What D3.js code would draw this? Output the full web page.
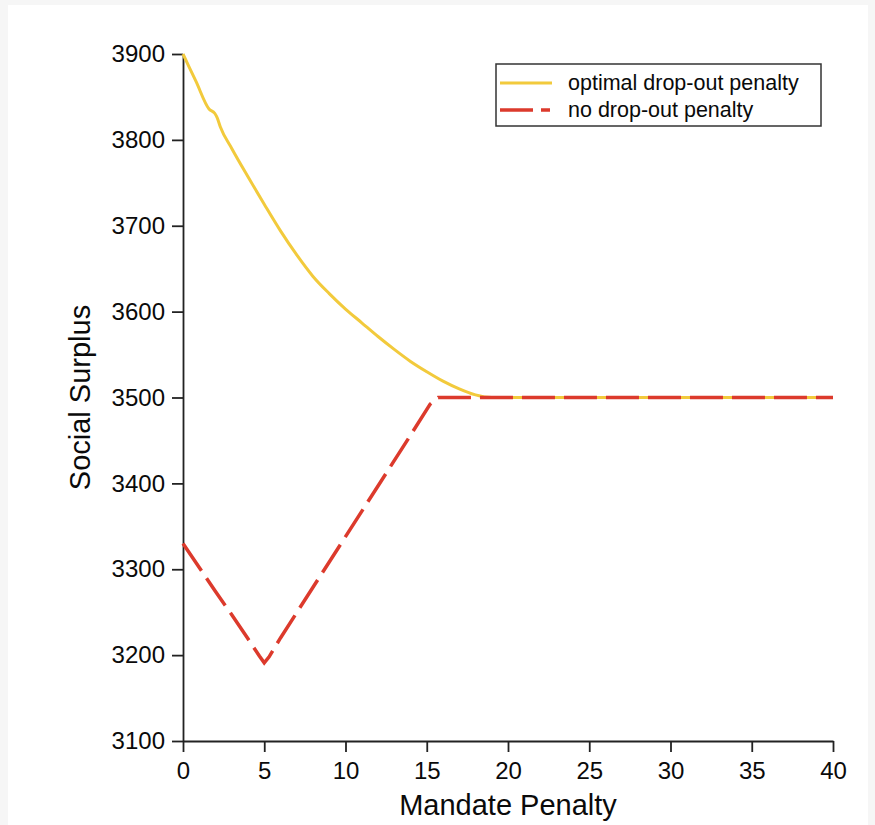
<!DOCTYPE html>
<html>
<head>
  <meta charset="utf-8" />
  <title>Social Surplus vs Mandate Penalty</title>
  <script src="https://d3js.org/d3.v7.min.js"></script>
  <style>
    body { margin: 0; background: #f6f6f6; }
    svg { display: block; }
    text { font-family: "Liberation Sans", Arial, Helvetica, sans-serif; fill: #0a0a0a; }
  </style>
</head>
<body>
  <div id="chart"></div>
  <script>
    // values
    const optPenalty = [0, 0.8, 1.6, 1.95, 2.1, 2.3, 3, 4, 5, 6, 7, 8, 9, 10, 11, 12, 13, 14, 15, 16, 17, 18, 19, 25, 30, 35, 40];
    const optSurplus = [3900, 3868, 3836, 3831, 3826, 3815, 3790, 3757, 3725, 3694, 3666, 3641, 3621, 3603, 3587, 3571, 3556, 3542, 3530, 3519, 3510, 3503, 3500, 3500, 3500, 3500, 3500];

    const noPenalty = [0, 1, 2, 3, 4, 4.7, 5, 5.3, 6, 8, 10, 12, 14, 15.2, 15.7, 20, 30, 40];
    const noSurplus = [3330, 3302, 3274, 3247, 3219, 3199, 3191, 3198, 3220, 3279, 3338, 3397, 3456, 3492, 3500, 3500, 3500, 3500];

    const xTicks = [0, 5, 10, 15, 20, 25, 30, 35, 40];
    const yTicks = [3100, 3200, 3300, 3400, 3500, 3600, 3700, 3800, 3900];
    const legendLabels = ["optimal drop-out penalty", "no drop-out penalty"];

    const width = 875, height = 825;
    const yellow = "#f2ca3c", red = "#dc3a2c";

    const svg = d3.select("#chart").append("svg")
      .attr("width", width)
      .attr("height", height);

    // white page area inside the light grey screenshot edge
    svg.append("rect")
      .attr("x", 8).attr("y", 5)
      .attr("width", 860).attr("height", 820)
      .attr("fill", "#fff");

    const x = d3.scaleLinear().domain([0, 40]).range([183, 833]);
    const y = d3.scaleLinear().domain([3100, 3900]).range([741, 54]);

    const xAxis = svg.append("g")
      .attr("transform", "translate(0," + y(3100) + ")")
      .call(d3.axisBottom(x).tickValues(xTicks).tickSize(11).tickPadding(10).tickSizeOuter(0));

    const yAxis = svg.append("g")
      .attr("transform", "translate(" + x(0) + ",0)")
      .call(d3.axisLeft(y).tickValues(yTicks).tickFormat(d3.format("d")).tickSize(11).tickPadding(7).tickSizeOuter(0));

    [xAxis, yAxis].forEach(function (g) {
      g.select(".domain").attr("stroke", "#222").attr("stroke-width", 1.8);
      g.selectAll(".tick line").attr("stroke", "#222").attr("stroke-width", 1.8);
      g.selectAll(".tick text")
        .attr("font-size", 24)
        .attr("font-family", "Liberation Sans, Arial, Helvetica, sans-serif")
        .attr("fill", "#0a0a0a");
    });

    svg.append("text")
      .attr("x", (x(0) + x(40)) / 2)
      .attr("y", 815)
      .attr("text-anchor", "middle")
      .attr("font-size", 29)
      .text("Mandate Penalty");

    svg.append("text")
      .attr("transform", "translate(90," + (y(3100) + y(3900)) / 2 + ") rotate(-90)")
      .attr("text-anchor", "middle")
      .attr("font-size", 29)
      .text("Social Surplus");

    const line = d3.line()
      .x(d => x(d[0]))
      .y(d => y(d[1]))
      .curve(d3.curveMonotoneX);

    svg.append("path")
      .datum(d3.zip(optPenalty, optSurplus))
      .attr("fill", "none")
      .attr("stroke", yellow)
      .attr("stroke-width", 3)
      .attr("d", line);

    svg.append("path")
      .datum(d3.zip(noPenalty, noSurplus))
      .attr("fill", "none")
      .attr("stroke", red)
      .attr("stroke-width", 3.5)
      .attr("stroke-dasharray", "33,9")
      .attr("d", line.curve(d3.curveLinear));

    // legend
    const legend = svg.append("g");
    legend.append("rect")
      .attr("x", 496).attr("y", 64)
      .attr("width", 325).attr("height", 62)
      .attr("fill", "#fff")
      .attr("stroke", "#333")
      .attr("stroke-width", 1.5);

    const legendColors = [yellow, red];
    const legendDash = [null, "33,8"];
    legendLabels.forEach(function (label, i) {
      const ly = 83 + i * 27;
      legend.append("line")
        .attr("x1", 500).attr("x2", i === 0 ? 552 : 550)
        .attr("y1", ly).attr("y2", ly)
        .attr("stroke", legendColors[i])
        .attr("stroke-width", i === 0 ? 3 : 3.5)
        .attr("stroke-dasharray", legendDash[i]);
      legend.append("text")
        .attr("x", 568)
        .attr("y", ly + 7)
        .attr("font-size", 21.5)
        .text(label);
    });
  </script>
</body>
</html>
